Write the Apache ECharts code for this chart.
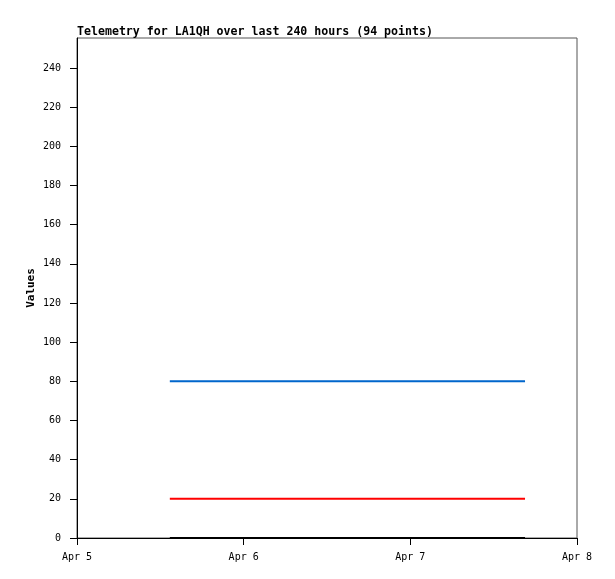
<!DOCTYPE html>
<html><head><meta charset="utf-8">
<script src="https://cdn.jsdelivr.net/npm/echarts@6/dist/echarts.min.js"></script>
<style>html,body{margin:0;padding:0;background:#fff}#c{width:615px;height:579px}</style>
</head><body><div id="c"></div>
<script>
const times = [
'2024-04-05T13:22Z','2024-04-05T13:55Z','2024-04-05T14:28Z','2024-04-05T15:01Z','2024-04-05T15:34Z','2024-04-05T16:07Z','2024-04-05T16:40Z','2024-04-05T17:13Z','2024-04-05T17:46Z','2024-04-05T18:19Z',
'2024-04-05T18:52Z','2024-04-05T19:25Z','2024-04-05T19:58Z','2024-04-05T20:31Z','2024-04-05T21:04Z','2024-04-05T21:37Z','2024-04-05T22:10Z','2024-04-05T22:43Z','2024-04-05T23:16Z','2024-04-05T23:49Z',
'2024-04-06T00:22Z','2024-04-06T00:55Z','2024-04-06T01:28Z','2024-04-06T02:01Z','2024-04-06T02:34Z','2024-04-06T03:07Z','2024-04-06T03:40Z','2024-04-06T04:13Z','2024-04-06T04:46Z','2024-04-06T05:19Z',
'2024-04-06T05:52Z','2024-04-06T06:25Z','2024-04-06T06:58Z','2024-04-06T07:31Z','2024-04-06T08:04Z','2024-04-06T08:37Z','2024-04-06T09:10Z','2024-04-06T09:43Z','2024-04-06T10:16Z','2024-04-06T10:49Z',
'2024-04-06T11:22Z','2024-04-06T11:55Z','2024-04-06T12:28Z','2024-04-06T13:01Z','2024-04-06T13:34Z','2024-04-06T14:07Z','2024-04-06T14:40Z','2024-04-06T15:13Z','2024-04-06T15:46Z','2024-04-06T16:19Z',
'2024-04-06T16:52Z','2024-04-06T17:25Z','2024-04-06T17:58Z','2024-04-06T18:31Z','2024-04-06T19:04Z','2024-04-06T19:37Z','2024-04-06T20:10Z','2024-04-06T20:43Z','2024-04-06T21:16Z','2024-04-06T21:49Z',
'2024-04-06T22:22Z','2024-04-06T22:55Z','2024-04-06T23:28Z','2024-04-07T00:01Z','2024-04-07T00:34Z','2024-04-07T01:07Z','2024-04-07T01:40Z','2024-04-07T02:13Z','2024-04-07T02:46Z','2024-04-07T03:19Z',
'2024-04-07T03:52Z','2024-04-07T04:25Z','2024-04-07T04:58Z','2024-04-07T05:31Z','2024-04-07T06:04Z','2024-04-07T06:37Z','2024-04-07T07:10Z','2024-04-07T07:43Z','2024-04-07T08:16Z','2024-04-07T08:49Z',
'2024-04-07T09:22Z','2024-04-07T09:55Z','2024-04-07T10:28Z','2024-04-07T11:01Z','2024-04-07T11:34Z','2024-04-07T12:07Z','2024-04-07T12:40Z','2024-04-07T13:13Z','2024-04-07T13:46Z','2024-04-07T14:19Z',
'2024-04-07T14:52Z','2024-04-07T15:25Z','2024-04-07T15:58Z','2024-04-07T16:31Z'
];
const seriesBlue  = [80,80,80,80,80,80,80,80,80,80, 80,80,80,80,80,80,80,80,80,80, 80,80,80,80,80,80,80,80,80,80, 80,80,80,80,80,80,80,80,80,80, 80,80,80,80,80,80,80,80,80,80, 80,80,80,80,80,80,80,80,80,80, 80,80,80,80,80,80,80,80,80,80, 80,80,80,80,80,80,80,80,80,80, 80,80,80,80,80,80,80,80,80,80, 80,80,80,80];
const seriesRed   = [20,20,20,20,20,20,20,20,20,20, 20,20,20,20,20,20,20,20,20,20, 20,20,20,20,20,20,20,20,20,20, 20,20,20,20,20,20,20,20,20,20, 20,20,20,20,20,20,20,20,20,20, 20,20,20,20,20,20,20,20,20,20, 20,20,20,20,20,20,20,20,20,20, 20,20,20,20,20,20,20,20,20,20, 20,20,20,20,20,20,20,20,20,20, 20,20,20,20];
const seriesBlack = [0,0,0,0,0,0,0,0,0,0, 0,0,0,0,0,0,0,0,0,0, 0,0,0,0,0,0,0,0,0,0, 0,0,0,0,0,0,0,0,0,0, 0,0,0,0,0,0,0,0,0,0, 0,0,0,0,0,0,0,0,0,0, 0,0,0,0,0,0,0,0,0,0, 0,0,0,0,0,0,0,0,0,0, 0,0,0,0,0,0,0,0,0,0, 0,0,0,0];
const xTicks = ['2024-04-05T00:00Z','2024-04-06T00:00Z','2024-04-07T00:00Z','2024-04-08T00:00Z'];
const monthNames = ['Jan','Feb','Mar','Apr','May','Jun','Jul','Aug','Sep','Oct','Nov','Dec'];

const t = times.map(s => Date.parse(s));
const mk = arr => arr.map((v, i) => [t[i], v]);
const xMin = Date.parse(xTicks[0]), xMax = Date.parse(xTicks[xTicks.length - 1]);
const font = 'DejaVu Sans Mono';

const chart = echarts.init(document.getElementById('c'), null, {renderer: 'canvas'});
chart.setOption({
  animation: false,
  backgroundColor: '#fff',
  title: {
    text: 'Telemetry for LA1QH over last 240 hours (94 points)',
    left: 77, top: 26, padding: 0,
    textStyle: {fontFamily: font, fontSize: 11.6, fontWeight: 'bold', color: '#000'}
  },
  grid: {left: 77, top: 38, width: 500, height: 500, show: true, borderColor: '#555', borderWidth: 1, backgroundColor: 'transparent'},
  xAxis: {
    type: 'value', min: xMin, max: xMax, interval: 86400000,
    axisLine: {show: true, lineStyle: {color: '#000', width: 1}},
    axisTick: {show: true, length: 7, lineStyle: {color: '#000'}},
    splitLine: {show: false},
    axisLabel: {
      fontFamily: font, fontSize: 10, color: '#000', margin: 14,
      formatter: v => { const d = new Date(v); return monthNames[d.getUTCMonth()] + ' ' + d.getUTCDate(); }
    }
  },
  yAxis: {
    type: 'value', min: 0, max: 255.3, interval: 20,
    name: 'Values', nameLocation: 'middle', nameGap: 40, nameRotate: 90, nameMoveOverlap: false,
    nameTextStyle: {fontFamily: font, fontSize: 11, fontWeight: 'bold', color: '#000'},
    axisLine: {show: true, lineStyle: {color: '#000', width: 1}},
    axisTick: {show: true, length: 7, lineStyle: {color: '#000'}},
    splitLine: {show: false},
    axisLabel: {fontFamily: font, fontSize: 10, color: '#000', margin: 16, showMaxLabel: false}
  },
  series: [
    {type: 'line', data: mk(seriesBlue), showSymbol: false, lineStyle: {color: '#0066cc', width: 2}, z: 3},
    {type: 'line', data: mk(seriesRed), showSymbol: false, lineStyle: {color: '#ff0000', width: 2}, z: 3},
    {type: 'line', data: mk(seriesBlack), showSymbol: false, lineStyle: {color: '#000000', width: 2}, z: 4}
  ]
});
</script></body></html>
